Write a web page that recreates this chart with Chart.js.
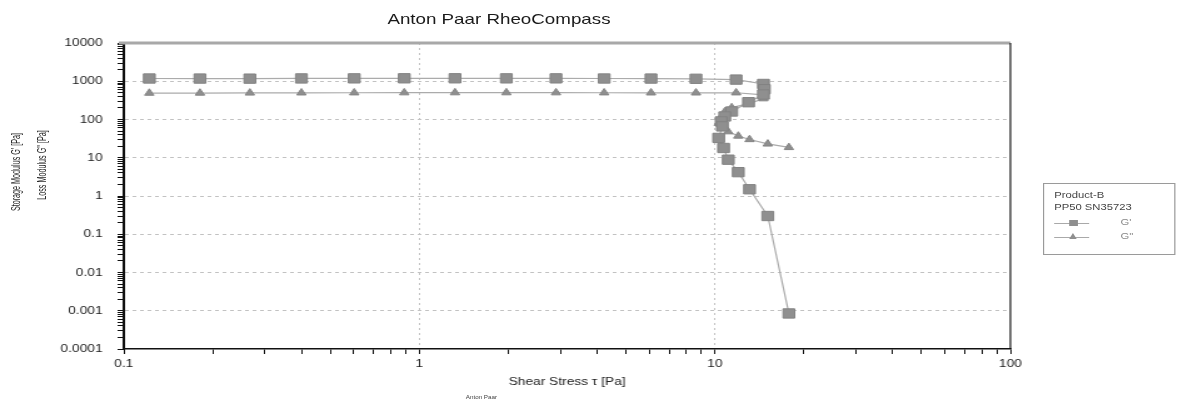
<!DOCTYPE html>
<html>
<head>
<meta charset="utf-8">
<script src="https://cdn.jsdelivr.net/npm/chart.js@4/dist/chart.umd.min.js"></script>
<style>
html, body { margin: 0; padding: 0; background: #fff; overflow: hidden; }
#wrap { position: relative; width: 946px; height: 403px; transform: scaleX(1.2505); transform-origin: 0 0;
        font-family: 'Liberation Sans', Arial, sans-serif; color: #222; }
#chart { position: absolute; left: 0; top: 0; }
.t { position: absolute; white-space: nowrap; line-height: 1; }
#title { left: 399px; top: 18px; font-size: 15px; color: #1a1a1a; transform: translate(-50%, -50%); }
.ylab { font-size: 10px; color: #2a2a2a; transform: translate(-50%, -50%) rotate(-90deg) scaleX(0.72); }
#ylab1 { left: 12.5px; top: 172px; }
#ylab2 { left: 34px; top: 165px; }
#foot { left: 385px; top: 397px; font-size: 5px; color: #444; transform: translate(-50%, -50%); }
#legend { position: absolute; left: 834px; top: 183px; width: 104px; height: 70px; border: 1px solid #9a9a9a; }
#legend .lt { position: absolute; left: 8px; font-size: 9px; color: #444; white-space: nowrap; line-height: 1; }
#legend .g { left: 61px; color: #888; }
#legend .ln { position: absolute; left: 8px; width: 28px; height: 0; border-top: 1px solid #a9a9a9; }
#legend .sq { position: absolute; left: 20px; width: 7px; height: 6px; background: #8f8f8f; }
#legend .tri { position: absolute; left: 20px; width: 0; height: 0;
               border-left: 3.5px solid transparent; border-right: 3.5px solid transparent; border-bottom: 6px solid #8f8f8f; }
</style>
</head>
<body>
<div id="wrap">
  <canvas id="chart" width="946" height="403"></canvas>
  <div class="t" id="title">Anton Paar RheoCompass</div>
  <div class="t ylab" id="ylab1">Storage Modulus G' [Pa]</div>
  <div class="t ylab" id="ylab2">Loss Modulus G'' [Pa]</div>
  <div class="t" id="foot">Anton Paar</div>
  <div id="legend">
    <div class="lt" style="top:7px">Product-B</div>
    <div class="lt" style="top:19px">PP50 SN35723</div>
    <div class="ln" style="top:39px"></div>
    <div class="sq" style="top:36px"></div>
    <div class="lt g" style="top:34px">G'</div>
    <div class="ln" style="top:53px"></div>
    <div class="tri" style="top:49px"></div>
    <div class="lt g" style="top:48px">G''</div>
  </div>
</div>
<script>
'use strict';

// tick labels (decades only)
const xTickValues = [0.1, 1, 10, 100];
const xTickLabels = ['0.1', '1', '10', '100'];
const yTickValues = [0.0001, 0.001, 0.01, 0.1, 1, 10, 100, 1000, 10000];
const yTickLabels = ['0.0001', '0.001', '0.01', '0.1', '1', '10', '100', '1000', '10000'];

// amplitude sweep
const shearStress = [0.122, 0.181, 0.267, 0.399, 0.602, 0.889, 1.32, 1.97, 2.90, 4.22, 6.08, 8.63, 11.8,
                     14.6, 14.7, 14.6, 13.0, 11.4, 10.8, 10.5, 10.6, 10.3, 10.7, 11.1, 12.0, 13.1, 15.1, 17.8];
const storageModulus = [1180, 1175, 1170, 1185, 1190, 1195, 1195, 1190, 1190, 1180, 1175, 1160, 1105,
                        850, 620, 450, 283, 162, 120, 89, 66, 33, 18, 8.9, 4.2, 1.5, 0.30, 0.00085];
const lossModulus = [490, 492, 495, 498, 500, 502, 503, 503, 502, 500, 498, 497, 500,
                     440, 400, 350, 260, 205, 160, 115, 95, 80, 62, 48, 37, 30, 23, 18.6];

// all 1..9 x decade positions, so minor tick marks show on the axes
function logTicks(decades) {
    const out = [];
    decades.forEach((d, i) => {
        if (i === decades.length - 1) { out.push({ value: d }); return; }
        for (let m = 1; m < 10; m++) out.push({ value: m === 1 ? d : m * d });
    });
    return out;
}

function gridColor(values) {
    return c => {
        const i = values.indexOf(c.tick && c.tick.value);
        return (i > 0 && i < values.length - 1) ? '#c2c2c2' : 'rgba(0,0,0,0)';
    };
}

const framePlugin = {
    id: 'frame',
    beforeDatasetsDraw(chart) {
        const { ctx, chartArea: a } = chart;
        ctx.save();
        ctx.strokeStyle = '#a8a8a8';
        ctx.lineWidth = 3;
        ctx.beginPath();
        ctx.moveTo(a.left - 4, a.top);
        ctx.lineTo(a.right, a.top);
        ctx.stroke();
        ctx.strokeStyle = '#111';
        ctx.lineWidth = 1.2;
        ctx.beginPath();
        ctx.moveTo(a.right, a.top);
        ctx.lineTo(a.right, a.bottom);
        ctx.stroke();
        ctx.restore();
    }
};

const tickFont = { family: "'Liberation Sans', Arial, sans-serif", size: 11 };

new Chart(document.getElementById('chart'), {
    type: 'scatter',
    data: {
        datasets: [
            {
                label: "G'",
                data: shearStress.map((x, i) => ({ x, y: storageModulus[i] })),
                showLine: true,
                borderColor: '#ababab', borderWidth: 1.2,
                pointStyle: 'rect', pointRadius: 6.6,
                pointBackgroundColor: '#8f8f8f', pointBorderColor: '#838383', pointBorderWidth: 1,
            },
            {
                label: "G''",
                data: shearStress.map((x, i) => ({ x, y: lossModulus[i] })),
                showLine: true,
                borderColor: '#ababab', borderWidth: 1.2,
                pointStyle: 'triangle', pointRadius: 4.3,
                pointBackgroundColor: '#8f8f8f', pointBorderColor: '#858585', pointBorderWidth: 1,
            }
        ]
    },
    options: {
        responsive: false, animation: false, devicePixelRatio: 1,
        layout: { padding: { top: 43, right: 138, bottom: 0, left: 0 } },
        plugins: { legend: { display: false }, tooltip: { enabled: false } },
        scales: {
            x: {
                type: 'logarithmic', min: 0.1, max: 100,
                afterBuildTicks: s => { s.ticks = logTicks(xTickValues); },
                afterFit: s => { s.height = 54; },
                ticks: {
                    autoSkip: false, maxRotation: 0, padding: 3, color: '#222', font: tickFont,
                    callback: v => { const i = xTickValues.indexOf(v); return i < 0 ? '' : xTickLabels[i]; }
                },
                grid: { color: gridColor(xTickValues), lineWidth: 1, tickColor: '#111', tickLength: 5, tickWidth: 1 },
                border: { color: '#111', width: 1.5, dash: [2, 3] },
                title: { display: true, text: 'Shear Stress τ [Pa]', color: '#222',
                         font: { family: "'Liberation Sans', Arial, sans-serif", size: 11 },
                         padding: { top: 0, bottom: 14 } }
            },
            y: {
                type: 'logarithmic', min: 0.0001, max: 10000,
                afterBuildTicks: s => { s.ticks = logTicks(yTickValues); },
                afterFit: s => { s.width = 99; },
                ticks: {
                    autoSkip: false, padding: 12, color: '#222', font: tickFont,
                    callback: v => { const i = yTickValues.indexOf(v); return i < 0 ? '' : yTickLabels[i]; }
                },
                grid: { color: gridColor(yTickValues), lineWidth: 1, tickColor: '#111', tickLength: 5, tickWidth: 1 },
                border: { color: '#111', width: 2, dash: [3, 3] }
            }
        }
    },
    plugins: [framePlugin]
});
</script>
</body>
</html>
